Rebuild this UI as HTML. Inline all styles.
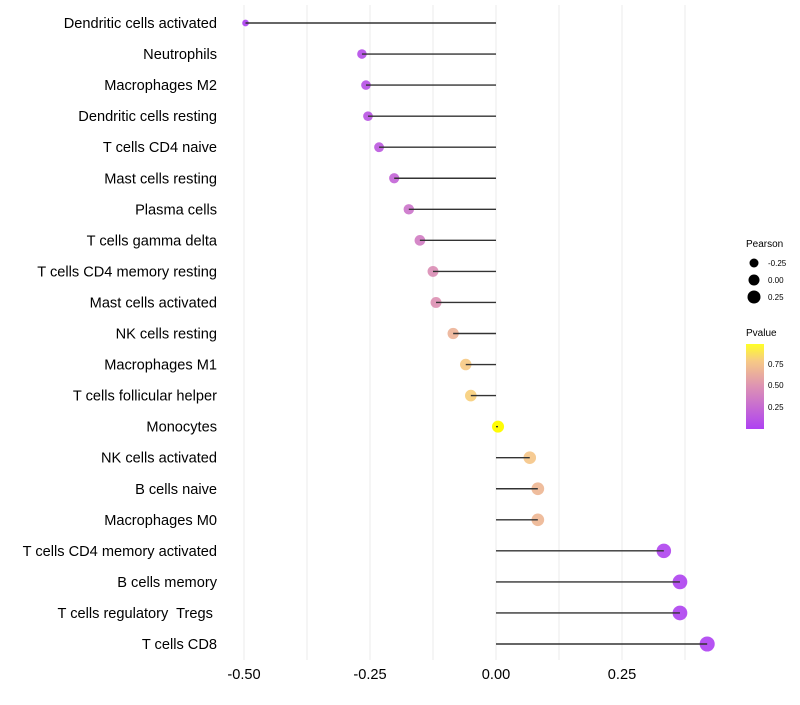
<!DOCTYPE html>
<html><head><meta charset="utf-8"><style>
body{margin:0;background:#fff;font-family:"Liberation Sans",Arial,sans-serif;}
text{white-space:pre;}
</style></head><body>
<svg id="chart" width="800" height="700">
<defs><linearGradient id="pg" x1="0" y1="1" x2="0" y2="0">
<stop offset="0" stop-color="#a020f0"/><stop offset="0.5" stop-color="#d77fa6"/><stop offset="0.8" stop-color="#f5c070"/><stop offset="1" stop-color="#ffff00"/>
</linearGradient></defs>
<g id="grid"></g><g id="marks"></g><g id="labels"></g><g id="xticks"></g>
<g>
<text x="746" y="247" font-size="10" fill="#000">Pearson</text>
<circle cx="754" cy="263" r="4.5" fill="#000"/><text x="768" y="266" font-size="8">-0.25</text>
<circle cx="754" cy="280" r="5.5" fill="#000"/><text x="768" y="283" font-size="8">0.00</text>
<circle cx="754" cy="297" r="6.5" fill="#000"/><text x="768" y="300" font-size="8">0.25</text>
<text x="746" y="336" font-size="10">Pvalue</text>
<rect x="746" y="344" width="18" height="85" fill="url(#pg)" opacity="0.85"/>
<text x="768" y="367" font-size="8">0.75</text>
<text x="768" y="388" font-size="8">0.50</text>
<text x="768" y="410" font-size="8">0.25</text>
</g>
</svg>
<script>
const categories=["Dendritic cells activated","Neutrophils","Macrophages M2","Dendritic cells resting","T cells CD4 naive","Mast cells resting","Plasma cells","T cells gamma delta","T cells CD4 memory resting","Mast cells activated","NK cells resting","Macrophages M1","T cells follicular helper","Monocytes","NK cells activated","B cells naive","Macrophages M0","T cells CD4 memory activated","B cells memory","T cells regulatory  Tregs ","T cells CD8"];
const pearson=[-0.497,-0.266,-0.258,-0.254,-0.232,-0.202,-0.173,-0.151,-0.125,-0.119,-0.085,-0.06,-0.05,0.004,0.067,0.083,0.083,0.333,0.365,0.365,0.419];
const pvalue=[0.0,0.08,0.1,0.12,0.15,0.22,0.32,0.37,0.48,0.5,0.68,0.8,0.82,0.99,0.78,0.7,0.7,0.03,0.02,0.02,0.01];
const tickValues=[-0.5,-0.25,0,0.25];
const tickLabels=["-0.50","-0.25","0.00","0.25"];
const NS="http://www.w3.org/2000/svg";
const x=v=>496+v*504;
const y=i=>23+i*31.05;
function mk(t,a,p){const e=document.createElementNS(NS,t);for(const k in a)e.setAttribute(k,a[k]);p.appendChild(e);return e;}
function lerp(a,b,t){return a.map((v,i)=>Math.round(v+(b[i]-v)*t));}
function col(p){const s=[[0,[160,32,240]],[0.5,[215,127,166]],[0.8,[245,192,112]],[1,[255,255,0]]];
for(let i=1;i<s.length;i++){if(p<=s[i][0]){const t=(p-s[i-1][0])/(s[i][0]-s[i-1][0]);const c=lerp(s[i-1][1],s[i][1],t);return `rgb(${c})`;}}return "rgb(255,255,0)";}
const grid=document.getElementById('grid');
for(let v=-0.5;v<=0.45;v+=0.125){const l=mk('line',{x1:x(v),x2:x(v),y1:5,y2:660,stroke:'#ebebeb','stroke-width':1},grid);

}
const marks=document.getElementById('marks'),labels=document.getElementById('labels');
categories.forEach((c,i)=>{
const r=Math.sqrt(Math.max(4,36+50*pearson[i]));
const cc=mk('circle',{cx:x(pearson[i]),cy:y(i),r:r,fill:col(pvalue[i]),'fill-opacity':pvalue[i]>0.95?1:0.78},marks);


const ln=mk('line',{x1:x(0),x2:x(pearson[i]),y1:y(i),y2:y(i),stroke:'#333','stroke-width':1.4},marks);


const t=mk('text',{x:217,y:y(i)+5,'text-anchor':'end','font-size':14.6,fill:'#000'},labels);t.textContent=c;


});
const xt=document.getElementById('xticks');
tickValues.forEach((v,i)=>{const t=mk('text',{x:x(v),y:679,'text-anchor':'middle','font-size':14.6,fill:'#000'},xt);t.textContent=tickLabels[i];

});
</script>
</body></html>
